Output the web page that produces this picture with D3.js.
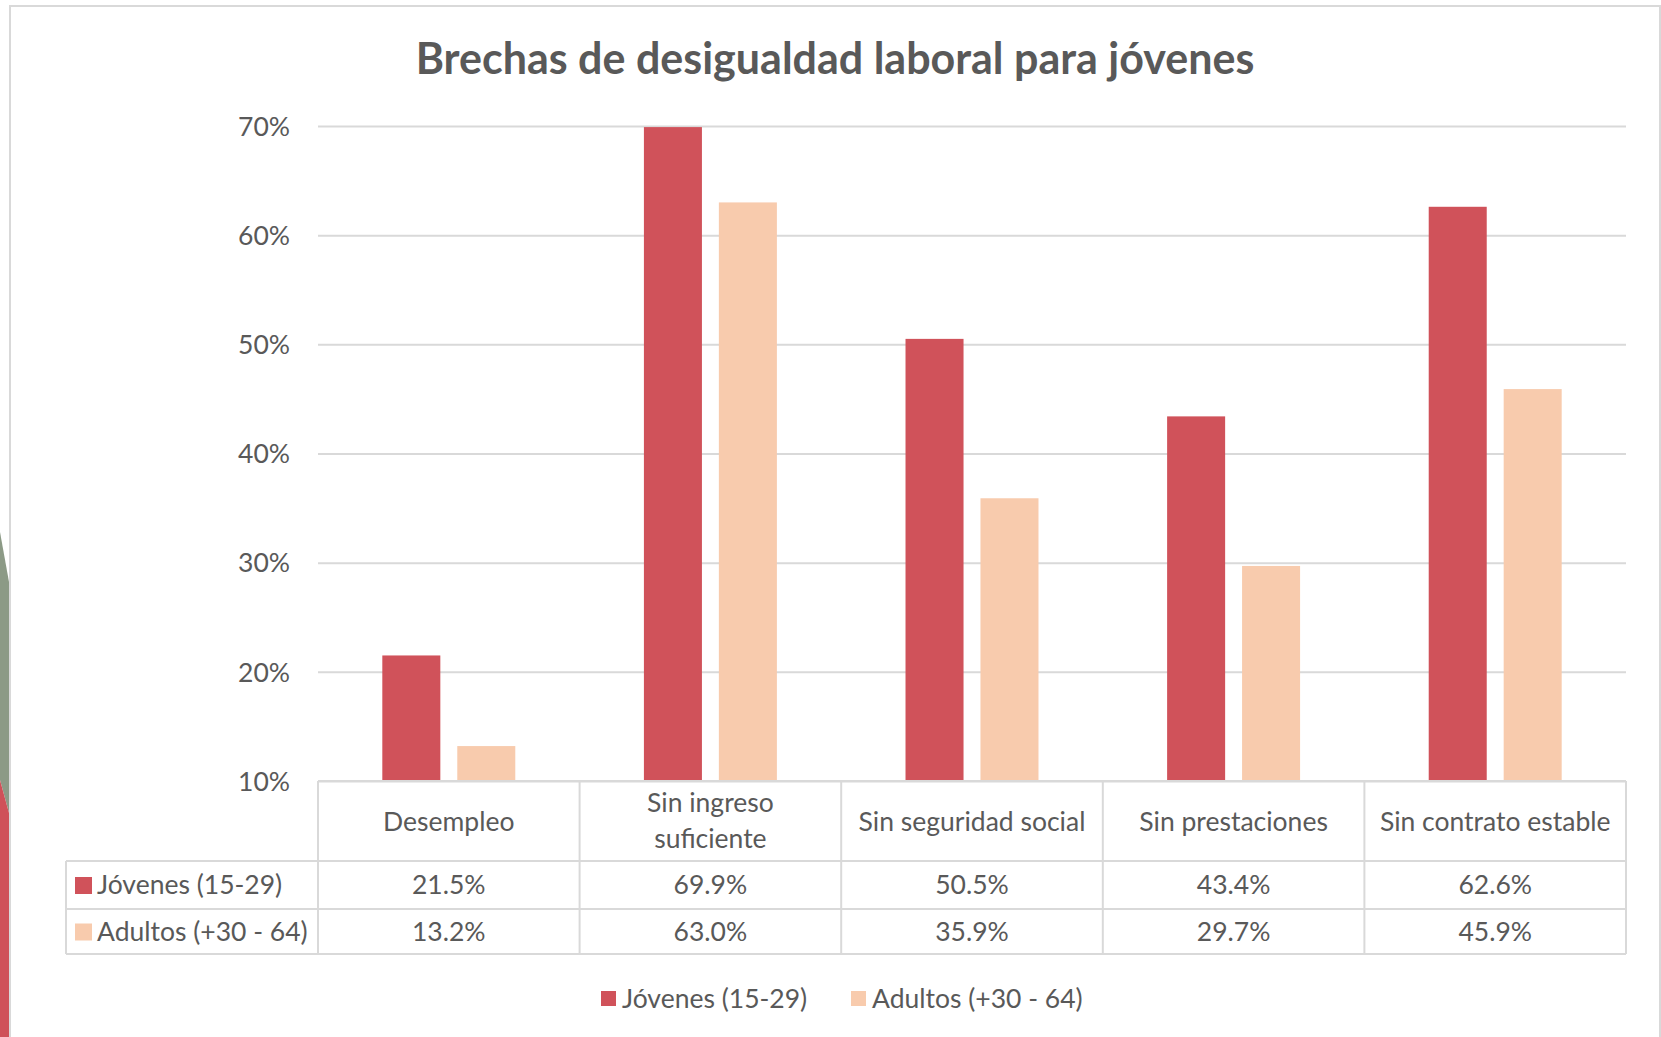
<!DOCTYPE html>
<html lang="es">
<head>
  <meta charset="utf-8">
  <title>Brechas de desigualdad laboral para jóvenes</title>
  <script src="https://d3js.org/d3.v7.min.js"></script>
  <style>
    body { margin: 0; background: #fff; }
    text { font-family: Lato, "Open Sans", sans-serif; fill: #595959; }
  </style>
</head>
<body>
<div id="chart"></div>
<script>
  // datos
  var categories = ["Desempleo", "Sin ingreso suficiente", "Sin seguridad social", "Sin prestaciones", "Sin contrato estable"];
  var seriesNames = ["Jóvenes (15-29)", "Adultos (+30 - 64)"];
  var jovenes = [21.5, 69.9, 50.5, 43.4, 62.6];
  var adultos = [13.2, 63.0, 35.9, 29.7, 45.9];
  var yTicks = [10, 20, 30, 40, 50, 60, 70];
  var colors = ["#d0525a", "#f8cbad"];

  var W = 1661, H = 1037;
  var plotLeft = 318, plotRight = 1626, plotTop = 126, plotBottom = 781;
  var tableLeft = 66;
  var rowY = [861, 909, 954];
  var fs = "26.5px";

  var data = categories.map(function (c, i) {
    return { cat: c, values: [jovenes[i], adultos[i]] };
  });

  var svg = d3.select("#chart").append("svg")
    .attr("width", W)
    .attr("height", H);

  // franja decorativa a la izquierda
  svg.append("polygon")
    .attr("points", "0,532 9,582 9,813 0,780")
    .attr("fill", "#8c9a86");
  svg.append("polygon")
    .attr("points", "0,780 9,813 9,1037 0,1037")
    .attr("fill", "#cf5159");

  // marco del gráfico
  svg.append("rect")
    .attr("x", 10).attr("y", 6)
    .attr("width", 1650).attr("height", 1100)
    .attr("fill", "#fff")
    .attr("stroke", "#d9d9d9")
    .attr("stroke-width", 2);

  svg.append("text")
    .attr("x", 835).attr("y", 74)
    .attr("text-anchor", "middle")
    .style("font-size", "43px")
    .style("font-weight", "bold")
    .text("Brechas de desigualdad laboral para jóvenes");

  var x0 = d3.scaleBand()
    .domain(categories)
    .range([plotLeft, plotRight])
    .padding(0);

  var x1 = d3.scaleBand()
    .domain([0, 1])
    .range([0, x0.bandwidth()])
    .paddingInner(0.226)
    .paddingOuter(0.858);

  var y = d3.scaleLinear()
    .domain([10, 70])
    .range([plotBottom, plotTop]);

  // líneas de cuadrícula
  svg.append("g")
    .call(d3.axisLeft(y).tickValues(yTicks).tickSize(-(plotRight - plotLeft)).tickFormat(function (d) { return d + "%"; }))
    .attr("transform", "translate(" + plotLeft + ",0)")
    .call(function (g) {
      g.select(".domain").remove();
      g.selectAll(".tick line").attr("stroke", "#d9d9d9").attr("stroke-width", 2);
      g.selectAll(".tick text")
        .attr("x", -28)
        .attr("dy", "0.35em")
        .style("font-size", fs)
        .style("font-family", "Lato, sans-serif")
        .attr("fill", "#595959");
    });

  // barras
  svg.append("g").selectAll("g")
    .data(data).enter().append("g")
    .attr("transform", function (d) { return "translate(" + x0(d.cat) + ",0)"; })
    .selectAll("rect")
    .data(function (d) { return d.values; })
    .enter().append("rect")
    .attr("x", function (d, i) { return x1(i); })
    .attr("y", function (d) { return y(d); })
    .attr("width", x1.bandwidth())
    .attr("height", function (d) { return y(10) - y(d); })
    .attr("fill", function (d, i) { return colors[i]; });

  // tabla de datos
  var grid = svg.append("g")
    .attr("stroke", "#d9d9d9")
    .attr("stroke-width", 2)
    .attr("fill", "none");

  grid.append("line").attr("x1", plotLeft).attr("x2", plotRight).attr("y1", plotBottom).attr("y2", plotBottom);
  rowY.forEach(function (ry) {
    grid.append("line").attr("x1", tableLeft).attr("x2", plotRight).attr("y1", ry).attr("y2", ry);
  });
  grid.append("line").attr("x1", tableLeft).attr("x2", tableLeft).attr("y1", rowY[0]).attr("y2", rowY[2]);
  categories.forEach(function (c) {
    grid.append("line").attr("x1", x0(c)).attr("x2", x0(c)).attr("y1", plotBottom).attr("y2", rowY[2]);
  });
  grid.append("line").attr("x1", plotRight).attr("x2", plotRight).attr("y1", plotBottom).attr("y2", rowY[2]);

  // encabezados de categoría (con salto de línea si no caben)
  var headers = svg.append("g").selectAll("text")
    .data(categories).enter().append("text")
    .attr("text-anchor", "middle")
    .style("font-size", fs)
    .attr("x", function (d) { return x0(d) + x0.bandwidth() / 2; })
    .text(function (d) { return d; });

  headers.each(function (d) {
    var t = d3.select(this);
    var cx = x0(d) + x0.bandwidth() / 2;
    var midY = (plotBottom + rowY[0]) / 2;
    if (this.getComputedTextLength() > 240) {
      var words = d.split(" ");
      var line1 = words.slice(0, 2).join(" ");
      var line2 = words.slice(2).join(" ");
      t.text(null);
      t.append("tspan").attr("x", cx).attr("y", midY - 18).attr("dy", "0.35em").text(line1);
      t.append("tspan").attr("x", cx).attr("y", midY + 18).attr("dy", "0.35em").text(line2);
    } else {
      t.attr("y", midY + 1).attr("dy", "0.35em");
    }
  });

  // filas con valores
  [jovenes, adultos].forEach(function (vals, s) {
    var cy = (rowY[s] + rowY[s + 1]) / 2;
    svg.append("rect")
      .attr("x", tableLeft + 9).attr("y", cy - 8)
      .attr("width", 17).attr("height", 17)
      .attr("fill", colors[s]);
    svg.append("text")
      .attr("x", tableLeft + 31).attr("y", cy)
      .attr("dy", "0.35em")
      .style("font-size", fs)
      .text(seriesNames[s]);
    svg.append("g").selectAll("text")
      .data(vals).enter().append("text")
      .attr("text-anchor", "middle")
      .attr("x", function (d, i) { return x0(categories[i]) + x0.bandwidth() / 2; })
      .attr("y", cy)
      .attr("dy", "0.35em")
      .style("font-size", fs)
      .text(function (d) { return d.toFixed(1) + "%"; });
  });

  // leyenda
  var legendX = [601, 851];
  var legend = svg.append("g").selectAll("g")
    .data(seriesNames).enter().append("g")
    .attr("transform", function (d, i) { return "translate(" + legendX[i] + ",999)"; });
  legend.append("rect")
    .attr("x", 0).attr("y", -8)
    .attr("width", 15).attr("height", 15)
    .attr("fill", function (d, i) { return colors[i]; });
  legend.append("text")
    .attr("x", 21).attr("dy", "0.35em")
    .style("font-size", fs)
    .text(function (d) { return d; });
</script>
</body>
</html>
